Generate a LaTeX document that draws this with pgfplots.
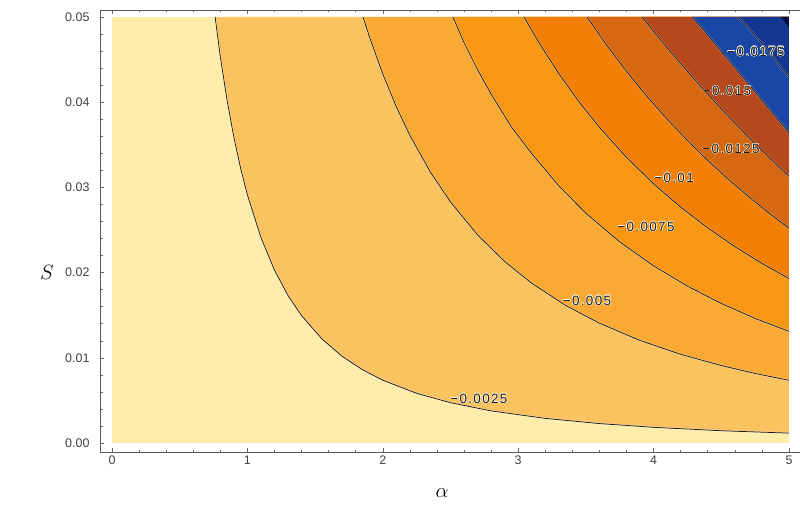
\documentclass[border=0pt]{standalone}
\usepackage{fontspec}
\setmainfont{Liberation Sans}
\usepackage{pgfplots}
\usepackage{pgfplotstable}
\pgfplotsset{compat=1.18}
\usepackage{contour}
\contourlength{0.45pt}
\definecolor{r1}{RGB}{254,236,170}
\definecolor{r2}{RGB}{251,194,96}
\definecolor{r3}{RGB}{249,170,52}
\definecolor{r4}{RGB}{248,151,20}
\definecolor{r5}{RGB}{242,127,8}
\definecolor{r6}{RGB}{214,104,18}
\definecolor{r7}{RGB}{182,72,30}
\definecolor{r8}{RGB}{26,70,165}
\definecolor{r9}{RGB}{20,54,145}
\definecolor{r10}{RGB}{6,16,64}
\pgfplotstableread{
a s
0.7616 0.05
0.8 0.04534
0.85 0.04021
0.9 0.03589
0.95 0.03224
1.0 0.02912
1.1 0.02411
1.2 0.02029
1.3 0.01731
1.4 0.01495
1.55 0.01222
1.7 0.01017
1.85 0.0086
2.0 0.00737
2.25 0.00583
2.5 0.00473
2.8 0.00377
3.2 0.00289
3.6 0.00228
4.0 0.00184
4.5 0.00144
5.0 0.00116
}\cA
\pgfplotstableread{
a s
1.854 0.05
1.9 0.04775
2.0 0.0433
2.1 0.03945
2.2 0.0361
2.35 0.03183
2.5 0.02829
2.7 0.02442
2.9 0.0213
3.1 0.01875
3.35 0.01615
3.6 0.01406
3.9 0.01203
4.2 0.01041
4.5 0.00909
4.75 0.00816
5.0 0.00736
}\cB
\pgfplotstableread{
a s
2.518 0.05
2.6 0.04698
2.7 0.04381
2.8 0.04095
2.95 0.03709
3.1 0.03396
3.3 0.03018
3.5 0.02697
3.75 0.0236
4.0 0.02079
4.25 0.01841
4.5 0.01638
4.75 0.01462
5.0 0.0131
}\cC
\pgfplotstableread{
a s
3.043 0.05
3.15 0.04707
3.3 0.04335
3.45 0.04003
3.6 0.03705
3.8 0.03352
4.0 0.03042
4.2 0.02768
4.4 0.02524
4.6 0.02305
4.8 0.02108
5.0 0.0193
}\cD
\pgfplotstableread{
a s
3.508 0.05
3.65 0.04676
3.8 0.04361
3.95 0.0407
4.1 0.03801
4.25 0.0355
4.4 0.03316
4.55 0.03098
4.7 0.02893
4.85 0.02701
5.0 0.0252
}\cE
\pgfplotstableread{
a s
3.914 0.05
4.0 0.04831
4.1 0.04639
4.2 0.04452
4.3 0.04271
4.4 0.04094
4.5 0.03922
4.6 0.03754
4.7 0.03592
4.8 0.03434
4.9 0.0328
5.0 0.0313
}\cF
\pgfplotstableread{
a s
4.284 0.05
4.35 0.0488
4.45 0.04692
4.55 0.04502
4.65 0.04311
4.75 0.04119
4.85 0.03927
4.95 0.03736
5.0 0.0364
}\cG
\pgfplotstableread{
a s
4.623 0.05
4.7 0.04873
4.8 0.04692
4.9 0.04497
5.0 0.0429
}\cH
\pgfplotstableread{
a s
4.94 0.05
4.97 0.0494
5.0 0.0488
}\cI
\newcommand{\lbl}[1]{\contour{white!92!yellow}{#1}}
\pgfplotsset{halo/.style={white, opacity=0.4, line width=1.8bp}, cline/.style={black!90, line width=0.75bp}}
\begin{document}
\begin{tikzpicture}
\begin{axis}[
  at={(100bp,53bp)}, anchor=south west,
  scale only axis, width=704bp, height=442bp,
  xmin=-0.0886, xmax=5.111, ymin=-0.001056, ymax=0.05082,
  xtick={0,1,2,3,4,5}, ytick={0,0.01,0.02,0.03,0.04,0.05},
  minor x tick num=4, minor y tick num=4,
  tick align=inside, tick pos=both, xticklabel pos=bottom, yticklabel pos=left,
  major tick length=4bp, minor tick length=2.5bp,
  every tick/.style={color=black!60, line width=0.5bp},
  axis line style={color=black!65, line width=0.6bp},
  scaled y ticks=false,
  yticklabel style={/pgf/number format/fixed, /pgf/number format/fixed zerofill, /pgf/number format/precision=2, xshift=-7bp},
  /pgf/number format/assume math mode=true,
  ticklabel style={font=\fontsize{12.5}{14}\selectfont, text=black!75},
  clip=false, axis on top,
]
\addplot[fill=r1, draw=none] coordinates {(0,0) (5,0) (5,0.05) (0,0.05)} -- cycle;
\addplot[fill=r2, draw=none] table[x=a,y=s] {\cA} -- (5,0.05) -- cycle;
\addplot[fill=r3, draw=none] table[x=a,y=s] {\cB} -- (5,0.05) -- cycle;
\addplot[fill=r4, draw=none] table[x=a,y=s] {\cC} -- (5,0.05) -- cycle;
\addplot[fill=r5, draw=none] table[x=a,y=s] {\cD} -- (5,0.05) -- cycle;
\addplot[fill=r6, draw=none] table[x=a,y=s] {\cE} -- (5,0.05) -- cycle;
\addplot[fill=r7, draw=none] table[x=a,y=s] {\cF} -- (5,0.05) -- cycle;
\addplot[fill=r8, draw=none] table[x=a,y=s] {\cG} -- (5,0.05) -- cycle;
\addplot[fill=r9, draw=none] table[x=a,y=s] {\cH} -- (5,0.05) -- cycle;
\addplot[fill=r10, draw=none] table[x=a,y=s] {\cI} -- (5,0.05) -- cycle;
\addplot[halo] table[x=a,y=s] {\cA};
\addplot[cline] table[x=a,y=s] {\cA};
\addplot[halo] table[x=a,y=s] {\cB};
\addplot[cline] table[x=a,y=s] {\cB};
\addplot[halo] table[x=a,y=s] {\cC};
\addplot[cline] table[x=a,y=s] {\cC};
\addplot[halo] table[x=a,y=s] {\cD};
\addplot[cline] table[x=a,y=s] {\cD};
\addplot[halo] table[x=a,y=s] {\cE};
\addplot[cline] table[x=a,y=s] {\cE};
\addplot[halo] table[x=a,y=s] {\cF};
\addplot[cline] table[x=a,y=s] {\cF};
\addplot[halo] table[x=a,y=s] {\cG};
\addplot[cline] table[x=a,y=s] {\cG};
\addplot[halo] table[x=a,y=s] {\cH};
\addplot[cline] table[x=a,y=s] {\cH};
\begin{scope}[every node/.style={font=\fontsize{13.5}{15}\selectfont\addfontfeatures{LetterSpace=10}, text=black!90, inner sep=0pt}]
\node at (axis cs:2.710,0.00516) {\lbl{−0.0025}};
\node at (axis cs:3.508,0.01667) {\lbl{−0.005}};
\node at (axis cs:3.944,0.02535) {\lbl{−0.0075}};
\node at (axis cs:4.151,0.0311) {\lbl{−0.01}};
\node at (axis cs:4.572,0.0345) {\lbl{−0.0125}};
\node at (axis cs:4.542,0.0413) {\lbl{−0.015}};
\node at (axis cs:4.756,0.0459) {\lbl{−0.0175}};
\end{scope}
\end{axis}
\node[font=\fontsize{21}{21}\selectfont] at (47bp,233bp) {$S$};
\node[font=\fontsize{21}{21}\selectfont] at (442bp,12bp) {$\alpha$};
\pgfresetboundingbox
\path (0,0) rectangle (800bp,505bp);
\end{tikzpicture}
\end{document}
